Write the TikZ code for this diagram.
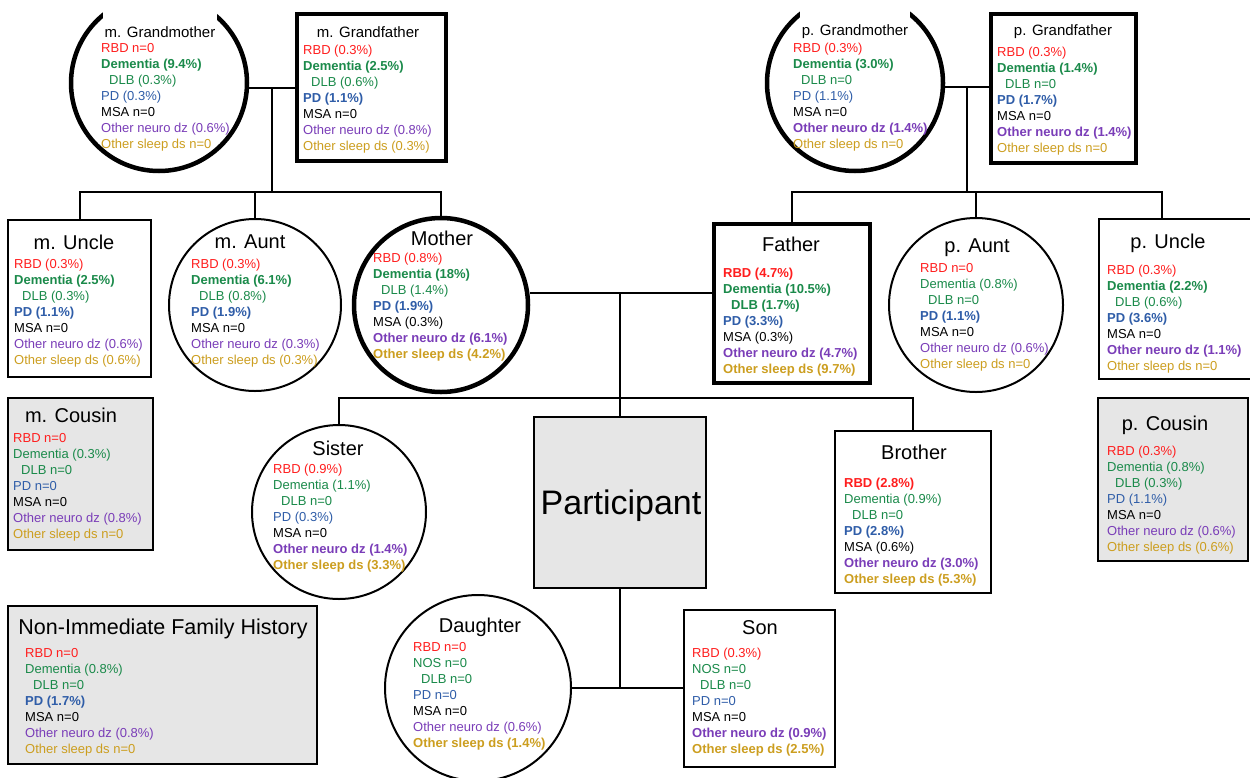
\documentclass[tikz,border=0pt]{standalone}
\usepackage{fontspec}
\setmainfont{Liberation Sans}
\usetikzlibrary{calc}
\definecolor{cR}{HTML}{FF1E1E}
\definecolor{cG}{HTML}{1A8A4A}
\definecolor{cB}{HTML}{2F5DA8}
\definecolor{cP}{HTML}{7A3DB8}
\definecolor{cY}{HTML}{CC9E1F}
\definecolor{cFill}{HTML}{E6E6E6}
\newcommand\xR[1]{{\color{cR}#1}}
\newcommand\xRb[1]{{\color{cR}\bfseries #1}}
\newcommand\xG[1]{{\color{cG}#1}}
\newcommand\xGb[1]{{\color{cG}\bfseries #1}}
\newcommand\xD[1]{\hspace*{8pt}{\color{cG}#1}}
\newcommand\xDb[1]{\hspace*{8pt}{\color{cG}\bfseries #1}}
\newcommand\xB[1]{{\color{cB}#1}}
\newcommand\xBb[1]{{\color{cB}\bfseries #1}}
\newcommand\xP[1]{{\color{cP}#1}}
\newcommand\xPb[1]{{\color{cP}\bfseries #1}}
\newcommand\xY[1]{{\color{cY}#1}}
\newcommand\xYb[1]{{\color{cY}\bfseries #1}}
\begin{document}
\begin{tikzpicture}[x=1pt,y=-1pt,
  shp/.style={draw, inner sep=0pt, line width=2pt, fill=white},
  thk/.style={line width=4.5pt},
  circ/.style={shp, circle},
  boxs/.style={shp, rectangle},
  grayf/.style={fill=cFill},
  lnk/.style={line width=2pt},
  info/.style={anchor=north west, align=left, inner sep=0pt, font=\fontsize{13}{16}\selectfont},
  ttl/.style={anchor=base, inner sep=0pt, font=\fontsize{20}{24}\selectfont},
  gttl/.style={anchor=base, inner sep=1.5pt, fill=white, font=\fontsize{15}{18}\selectfont},
  gttlb/.style={anchor=base, inner sep=0pt, font=\fontsize{15}{18}\selectfont}
]
\useasboundingbox (0,0) rectangle (1250,777);
\fill[white] (0,0) rectangle (1250,777);
\clip (0,0) rectangle (1250,777);

% ---------- shapes ----------
\node[circ, thk, minimum size=176] (mgm) at (159,83) {};
\node[boxs, thk, minimum width=149, minimum height=147] (mgf) at (371.5,87.5) {};
\node[circ, thk, minimum size=176] (pgm) at (855,83) {};
\node[boxs, thk, minimum width=145, minimum height=149] (pgf) at (1063.5,88.5) {};

\node[boxs, minimum width=143, minimum height=157] (mu) at (79.5,298.5) {};
\node[circ, minimum size=172] (ma) at (255,305) {};
\node[circ, thk, minimum size=174] (mo) at (441,305) {};
\node[boxs, thk, minimum width=156, minimum height=159] (fa) at (792,303.5) {};
\node[circ, minimum size=174] (pa) at (976,305) {};
\node[boxs, minimum width=156, minimum height=160] (pu) at (1177,299) {};

\node[boxs, grayf, minimum width=145, minimum height=152] (mc) at (80.5,474) {};
\node[circ, minimum size=174] (si) at (339,512) {};
\node[boxs, grayf, minimum width=172, minimum height=171] (pp) at (620,502.5) {};
\node[boxs, minimum width=156, minimum height=162] (br) at (913,512) {};
\node[boxs, grayf, minimum width=150, minimum height=163] (pc) at (1173,479.5) {};

\node[boxs, grayf, minimum width=309, minimum height=158] (nifh) at (162.5,685) {};
\node[circ, minimum size=186] (da) at (478,688) {};
\node[boxs, minimum width=151, minimum height=157] (so) at (759.5,688.5) {};

% ---------- connectors ----------
\coordinate (mjA) at (272,88);
\coordinate (mjB) at (272,192);
\coordinate (pjA) at (967,87);
\coordinate (pjB) at (967,192);
\coordinate (puTop) at ($(pu.north west)+(64,0)$);
\coordinate (cj) at (620,293);
\coordinate (sj) at (620,398);
\coordinate (dj) at (620,688);

\draw[lnk] (mgm.east |- mjA) -- (mgf.west |- mjA);
\draw[lnk] (mjA) -- (mjB);
\draw[lnk] (mu.north) |- (mjB) -| (mo.north);
\draw[lnk] (ma.north) -- (ma.north |- mjB);

\draw[lnk] (pgm.east |- pjA) -- (pgf.west |- pjA);
\draw[lnk] (pjA) -- (pjB);
\draw[lnk] (fa.north) |- (pjB) -| (puTop);
\draw[lnk] (pa.north) -- (pa.north |- pjB);

\draw[lnk] (mo.east |- cj) -- (fa.west |- cj);
\draw[lnk] (cj) -- (pp.north);
\draw[lnk] (si.north) |- (sj) -| (br.north);
\draw[lnk] (pp.south) -- (dj);
\draw[lnk] (da.east |- dj) -- (so.west |- dj);

% ---------- titles ----------
\node[gttl] (mgmT) at (160,37.4) {m. Grandmother};
\fill[white] (mgmT.north west) rectangle ($(mgmT.north east)+(0,-30)$);
\node[gttlb] (mgfT) at (368,37.4) {m. Grandfather};
\node[gttl] (pgmT) at (855,35.4) {p. Grandmother};
\fill[white] (pgmT.north west) rectangle ($(pgmT.north east)+(0,-30)$);
\node[gttlb] (pgfT) at (1063,35.4) {p. Grandfather};
\node[ttl] (muT) at (74,249.2) {m. Uncle};
\node[ttl] (maT) at (250,248.2) {m. Aunt};
\node[ttl] (moT) at (442,245.2) {Mother};
\node[ttl] (faT) at (791,251.2) {Father};
\node[ttl] (paT) at (977,252.2) {p. Aunt};
\node[ttl] (puT) at (1168,248.2) {p. Uncle};
\node[ttl] (mcT) at (71,422.2) {m. Cousin};
\node[ttl] (siT) at (338,455.2) {Sister};
\node[ttl] (brT) at (914,459.2) {Brother};
\node[ttl] (pcT) at (1165,430.2) {p. Cousin};
\node[anchor=base, inner sep=0pt, font=\fontsize{21.5}{26}\selectfont] (nifhT) at (163,634.7) {Non-Immediate Family History};
\node[ttl] (daT) at (480,632.2) {Daughter};
\node[ttl] (soT) at (760,634.2) {Son};
\node[anchor=base, inner sep=0pt, font=\fontsize{34}{40}\selectfont] (ppT) at (621,514.2) {Participant};

% ---------- info ----------
\node[info] (mgmI) at (101,43.3) {\xR{RBD n=0}\\ \xGb{Dementia (9.4\%)}\\ \xD{DLB (0.3\%)}\\ \xB{PD (0.3\%)}\\ MSA n=0\\ \xP{Other neuro dz (0.6\%)}\\ \xY{Other sleep ds n=0}};
\node[info] (mgfI) at (303,45.3) {\xR{RBD (0.3\%)}\\ \xGb{Dementia (2.5\%)}\\ \xD{DLB (0.6\%)}\\ \xBb{PD (1.1\%)}\\ MSA n=0\\ \xP{Other neuro dz (0.8\%)}\\ \xY{Other sleep ds (0.3\%)}};
\node[info] (pgmI) at (793,43.3) {\xR{RBD (0.3\%)}\\ \xGb{Dementia (3.0\%)}\\ \xD{DLB n=0}\\ \xB{PD (1.1\%)}\\ MSA n=0\\ \xPb{Other neuro dz (1.4\%)}\\ \xY{Other sleep ds n=0}};
\node[info] (pgfI) at (997,47.3) {\xR{RBD (0.3\%)}\\ \xGb{Dementia (1.4\%)}\\ \xD{DLB n=0}\\ \xBb{PD (1.7\%)}\\ MSA n=0\\ \xPb{Other neuro dz (1.4\%)}\\ \xY{Other sleep ds n=0}};
\node[info] (muI) at (14,259.3) {\xR{RBD (0.3\%)}\\ \xGb{Dementia (2.5\%)}\\ \xD{DLB (0.3\%)}\\ \xBb{PD (1.1\%)}\\ MSA n=0\\ \xP{Other neuro dz (0.6\%)}\\ \xY{Other sleep ds (0.6\%)}};
\node[info] (maI) at (191,259.3) {\xR{RBD (0.3\%)}\\ \xGb{Dementia (6.1\%)}\\ \xD{DLB (0.8\%)}\\ \xBb{PD (1.9\%)}\\ MSA n=0\\ \xP{Other neuro dz (0.3\%)}\\ \xY{Other sleep ds (0.3\%)}};
\node[info] (moI) at (373,253.3) {\xR{RBD (0.8\%)}\\ \xGb{Dementia (18\%)}\\ \xD{DLB (1.4\%)}\\ \xBb{PD (1.9\%)}\\ MSA (0.3\%)\\ \xPb{Other neuro dz (6.1\%)}\\ \xYb{Other sleep ds (4.2\%)}};
\node[info] (faI) at (723,268.3) {\xRb{RBD (4.7\%)}\\ \xGb{Dementia (10.5\%)}\\ \xDb{DLB (1.7\%)}\\ \xBb{PD (3.3\%)}\\ MSA (0.3\%)\\ \xPb{Other neuro dz (4.7\%)}\\ \xYb{Other sleep ds (9.7\%)}};
\node[info] (paI) at (920,263.3) {\xR{RBD n=0}\\ \xG{Dementia (0.8\%)}\\ \xD{DLB n=0}\\ \xBb{PD (1.1\%)}\\ MSA n=0\\ \xP{Other neuro dz (0.6\%)}\\ \xY{Other sleep ds n=0}};
\node[info] (puI) at (1107,265.3) {\xR{RBD (0.3\%)}\\ \xGb{Dementia (2.2\%)}\\ \xD{DLB (0.6\%)}\\ \xBb{PD (3.6\%)}\\ MSA n=0\\ \xPb{Other neuro dz (1.1\%)}\\ \xY{Other sleep ds n=0}};
\node[info] (mcI) at (13,433.3) {\xR{RBD n=0}\\ \xG{Dementia (0.3\%)}\\ \xD{DLB n=0}\\ \xB{PD n=0}\\ MSA n=0\\ \xP{Other neuro dz (0.8\%)}\\ \xY{Other sleep ds n=0}};
\node[info] (siI) at (273,464.3) {\xR{RBD (0.9\%)}\\ \xG{Dementia (1.1\%)}\\ \xD{DLB n=0}\\ \xB{PD (0.3\%)}\\ MSA n=0\\ \xPb{Other neuro dz (1.4\%)}\\ \xYb{Other sleep ds (3.3\%)}};
\node[info] (brI) at (844,478.3) {\xRb{RBD (2.8\%)}\\ \xG{Dementia (0.9\%)}\\ \xD{DLB n=0}\\ \xBb{PD (2.8\%)}\\ MSA (0.6\%)\\ \xPb{Other neuro dz (3.0\%)}\\ \xYb{Other sleep ds (5.3\%)}};
\node[info] (pcI) at (1107,446.3) {\xR{RBD (0.3\%)}\\ \xG{Dementia (0.8\%)}\\ \xD{DLB (0.3\%)}\\ \xB{PD (1.1\%)}\\ MSA n=0\\ \xP{Other neuro dz (0.6\%)}\\ \xY{Other sleep ds (0.6\%)}};
\node[info] (nifhI) at (25,648.3) {\xR{RBD n=0}\\ \xG{Dementia (0.8\%)}\\ \xD{DLB n=0}\\ \xBb{PD (1.7\%)}\\ MSA n=0\\ \xP{Other neuro dz (0.8\%)}\\ \xY{Other sleep ds n=0}};
\node[info] (daI) at (413,642.3) {\xR{RBD n=0}\\ \xG{NOS n=0}\\ \xD{DLB n=0}\\ \xB{PD n=0}\\ MSA n=0\\ \xP{Other neuro dz (0.6\%)}\\ \xYb{Other sleep ds (1.4\%)}};
\node[info] (soI) at (692,648.3) {\xR{RBD (0.3\%)}\\ \xG{NOS n=0}\\ \xD{DLB n=0}\\ \xB{PD n=0}\\ MSA n=0\\ \xPb{Other neuro dz (0.9\%)}\\ \xYb{Other sleep ds (2.5\%)}};
\end{tikzpicture}
\end{document}
